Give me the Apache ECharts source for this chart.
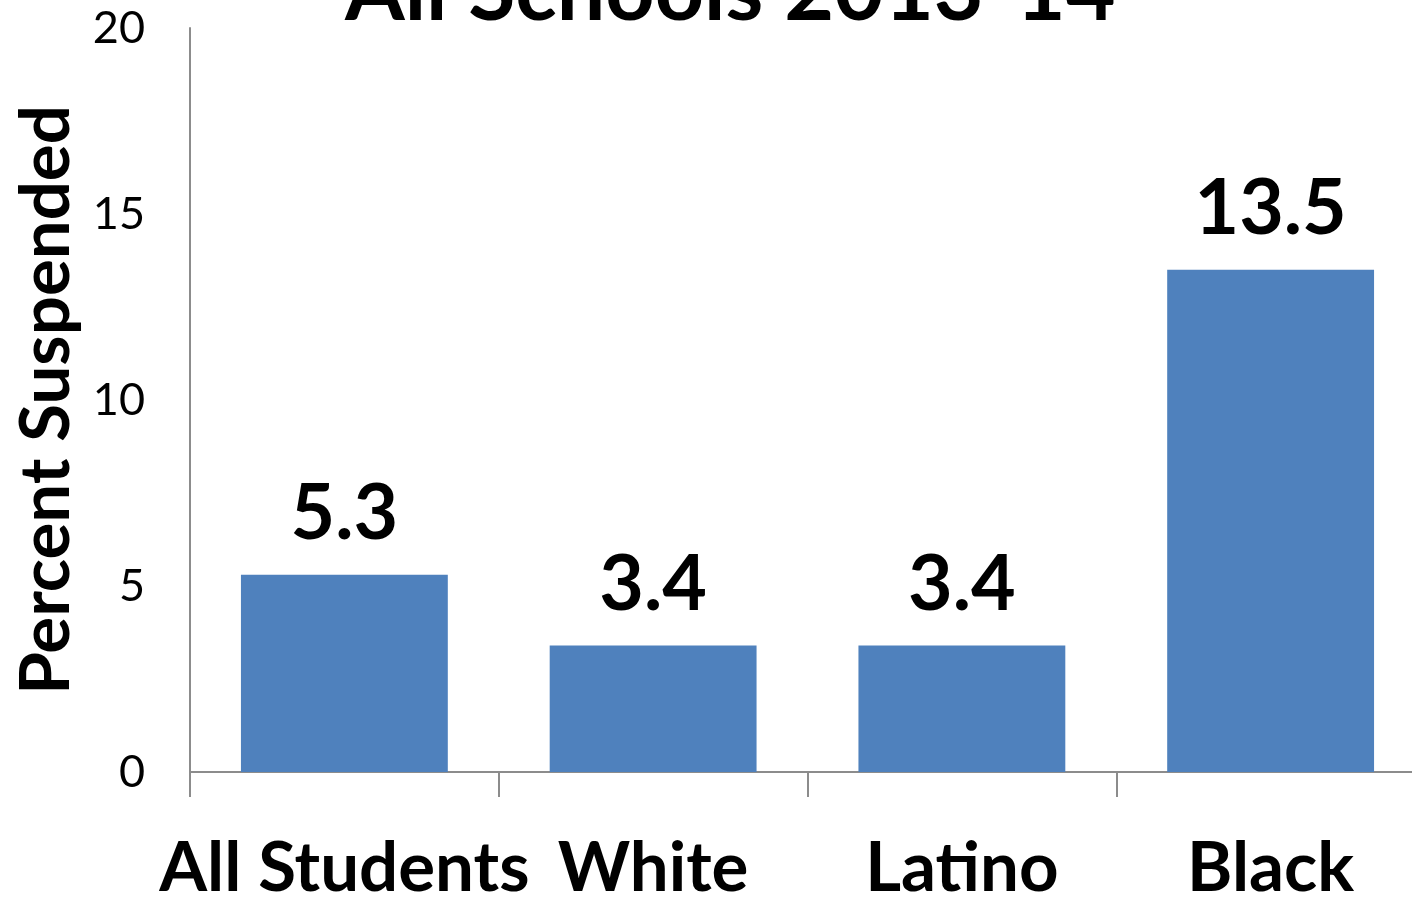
<!DOCTYPE html>
<html>
<head>
<meta charset="utf-8">
<script src="https://cdn.jsdelivr.net/npm/echarts@6/dist/echarts.min.js"></script>
<style>
  html, body { margin: 0; padding: 0; background: #fff; }
  #chart { width: 1412px; height: 897px; }
</style>
</head>
<body>
<div id="chart"></div>
<script>
const categories = ['All Students', 'White', 'Latino', 'Black']
const suspended = [5.3, 3.4, 3.4, 13.5]
const yTicks = { min: 0, max: 20, interval: 5 }

const font = 'Lato, "Open Sans", sans-serif'
const chart = echarts.init(document.getElementById('chart'))

const option = {
  animation: false,
  title: {
    text: 'All Schools 2013-14',
    left: 340,
    top: -56,
    textStyle: {
      fontFamily: font,
      fontSize: 86,
      fontWeight: 'bold',
      color: '#000'
    }
  },
  grid: {
    left: 190,
    right: -13,
    top: 28,
    bottom: 125,
    outerBoundsMode: 'none',
    containLabel: false
  },
  xAxis: {
    type: 'category',
    data: categories,
    axisLine: { lineStyle: { color: '#8c8c8c', width: 2 } },
    axisTick: { show: true, length: 25, lineStyle: { color: '#8c8c8c', width: 2 } },
    axisLabel: {
      interval: 0,
      margin: 62,
      fontFamily: font,
      fontSize: 69,
      fontWeight: 'bold',
      color: '#000'
    }
  },
  yAxis: {
    type: 'value',
    min: yTicks.min,
    max: yTicks.max,
    interval: yTicks.interval,
    name: 'Percent Suspended',
    nameLocation: 'middle',
    nameGap: 109,
    nameTextStyle: {
      fontFamily: font,
      fontSize: 69,
      fontWeight: 'bold',
      color: '#000'
    },
    axisLine: { show: true, lineStyle: { color: '#8c8c8c', width: 2 } },
    axisTick: { show: false },
    splitLine: { show: false },
    axisLabel: {
      margin: 45,
      fontFamily: font,
      fontSize: 45,
      color: '#000'
    }
  },
  series: [
    {
      type: 'bar',
      data: suspended,
      barWidth: '67%',
      itemStyle: { color: '#4F81BD' },
      label: {
        show: true,
        position: 'top',
        distance: 22,
        fontFamily: font,
        fontSize: 77,
        fontWeight: 'bold',
        color: '#000'
      }
    }
  ]
}

chart.setOption(option)
</script>
</body>
</html>
